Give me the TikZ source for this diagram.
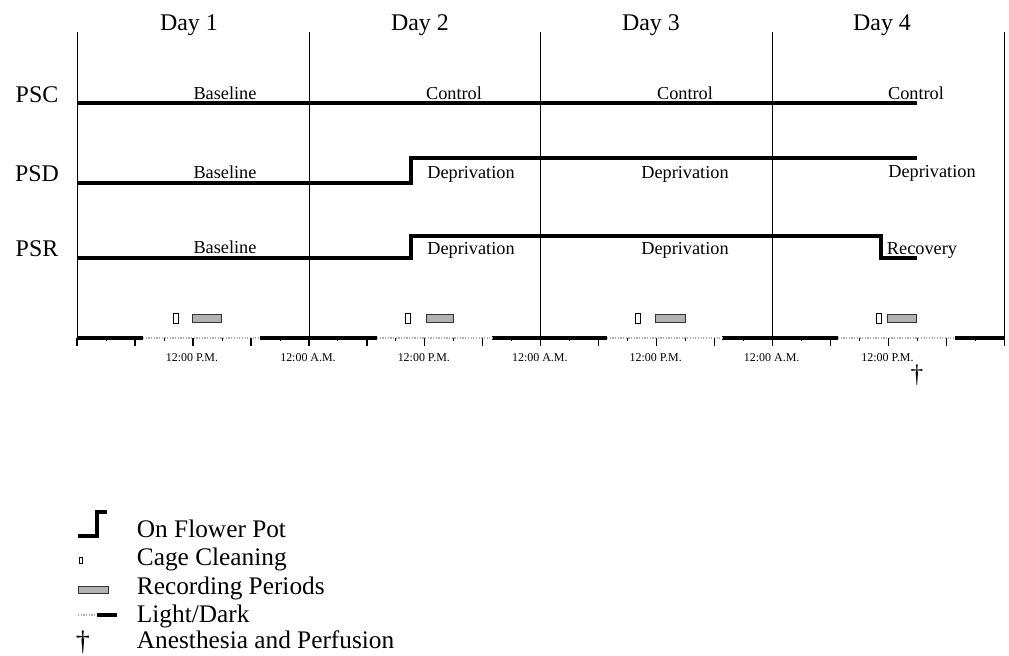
\documentclass[tikz,border=0pt]{standalone}
\usepackage{fontspec}
\setmainfont{Liberation Serif}
\usetikzlibrary{positioning}

\begin{document}
\begin{tikzpicture}
		[x=0.025cm,y=-0.025cm,
		day label/.style={anchor=base,font=\fontsize{17}{20}\selectfont},
		group label/.style={anchor=base,font=\fontsize{17}{20}\selectfont},
		phase label/.style={anchor=base,font=\fontsize{13}{15}\selectfont},
		time label/.style={font=\fontsize{8.5}{9}\selectfont},
		legend label/.style={anchor=base west,font=\fontsize{18}{21}\selectfont},
		level line/.style={line width=2.2pt},
		day line/.style={line width=0.6pt},
		dark phase/.style={line width=2.2pt},
		light phase/.style={gray!65,line width=0.9pt,densely dotted},
		cage box/.style={draw,fill=white,line width=0.6pt},
		record box/.style={draw=black!80,fill=gray!60,line width=0.7pt},
		major tick/.style={line width=1pt},
		minor tick/.style={line width=0.5pt}]
		\useasboundingbox (0,0) rectangle (1009,656);
		\def \hr {9.66}
		
		% day frame
		\foreach \x in {77,309,540,772,1004}
			\draw[day line] (\x,32) -- (\x,345);
		\foreach \d/\x in {1/189,2/420,3/651,4/882}
			\node[day label] (day\d) at (\x,31) {Day \d};
		
		\node[group label] (psc) at (37,103) {PSC};
		\node[group label] (psd) at (37,182) {PSD};
		\node[group label] (psr) at (37,257) {PSR};
		
		\draw[level line] (78,103) -- (917,103);
		\draw[level line] (78,183) -- (411,183) -- (411,158) -- (917,158);
		\draw[level line] (78,258) -- (411,258) -- (411,236) -- (881,236) -- (881,258) -- (917,258);
		
		\node[phase label] (c1) at (225,100) {Baseline};
		\node[phase label] (c2) at (454,100) {Control};
		\node[phase label] (c3) at (685,100) {Control};
		\node[phase label] (c4) at (916,100) {Control};
		
		\node[phase label] (d1) at (225,179) {Baseline};
		\node[phase label] (d2) at (471,179) {Deprivation};
		\node[phase label] (d3) at (685,179) {Deprivation};
		\node[phase label] (d4) at (932,178) {Deprivation};
		
		\node[phase label] (r1) at (225,254) {Baseline};
		\node[phase label] (r2) at (471,255) {Deprivation};
		\node[phase label] (r3) at (685,255) {Deprivation};
		\node[phase label] (r4) at (922,255) {Recovery};
		
		% cleaning and recording
		\foreach \c/\a/\b in {175.5/192/221,408/426/453,638/655/685,878.5/887/916}{
			\draw[cage box] ({\c-2.5},313) rectangle ({\c+2.5},323);
			\draw[record box] (\a,314) rectangle (\b,322);
		}
		
		% light/dark axis
		\foreach \a/\b in {77/143,260/377,492/607,722/838,955/1004}
			\draw[dark phase] (\a,338) -- (\b,338);
		\foreach \a/\b in {143/260,377/492,607/722,838/955}
			\draw[light phase] (\a,338) -- (\b,338);
		\foreach \k in {0,...,16}
			\draw[major tick] ({77+6*\hr*\k},338) -- ++(0,8);
		\foreach \k in {0,...,15}
			\draw[minor tick] ({77+3*\hr+6*\hr*\k},338) -- ++(0,3.5);
		
		\foreach \i in {0,...,3}
			\node[time label] (pm\i) at ({192+24*\hr*\i},358) {12:00 P.M.};
		\foreach \i in {0,...,2}
			\node[time label] (am\i) at ({308+24*\hr*\i},358) {12:00 A.M.};
		\node[font=\fontsize{18}{20}\selectfont] (perf) at (917,375) {\dag};
		
		% legend
		\draw[line width=2.2pt] (78,536) -- (97,536) -- (97,512) -- (107,512);
		\draw[cage box] (79,557) rectangle (82.5,563);
		\draw[record box] (78,586) rectangle (108,593);
		\draw[light phase] (78,615) -- (97,615);
		\draw[dark phase] (97,615) -- (117,615);
		\node[font=\fontsize{20}{22}\selectfont] (dag) at (83,642) {\dag};
		
		\node[legend label] (l1) at (132,537) {On Flower Pot};
		\node[legend label] (l2) at (132,565) {Cage Cleaning};
		\node[legend label] (l3) at (132,594) {Recording Periods};
		\node[legend label] (l4) at (132,622) {Light/Dark};
		\node[legend label] (l5) at (132,648) {Anesthesia and Perfusion};
		\end{tikzpicture}
\end{document}
